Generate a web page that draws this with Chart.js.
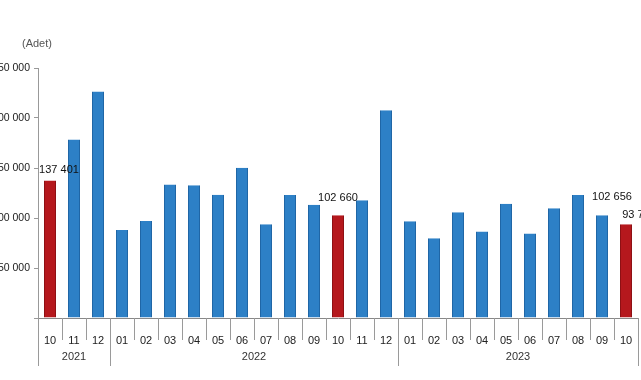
<!DOCTYPE html>
<html><head><meta charset="utf-8">
<script src="https://cdn.jsdelivr.net/npm/chart.js@4/dist/chart.umd.min.js"></script>
<style>
html,body{margin:0;padding:0;background:#fff;overflow:hidden;width:641px;height:380px;}
#wrap{position:absolute;left:-9px;top:0;width:650px;height:380px;}
#unit{position:absolute;left:22px;top:37px;font:11px "Liberation Sans",Arial,sans-serif;color:#555;}
</style></head><body>
<div id="wrap"><canvas id="c" width="650" height="380"></canvas></div>
<div id="unit">(Adet)</div>
<script>
// ---- data ----
const months = ['10','11','12','01','02','03','04','05','06','07','08','09','10','11','12','01','02','03','04','05','06','07','08','09','10'];
const yearNames = ['2021','2022','2023'];
const yearStart = [0, 3, 15];
const yearEnd = [2, 14, 24];
const values = [137401,178500,226500, 88000,97000,133500,132800,123200,150300,93800,123000,113200,102660,117800,207800, 96850,79700,105700,86500,114200,84500,109700,122900,102656,93760];
const highlightIdx = [0, 12, 24];
const labelIdx = [0, 12, 23, 24];
const labelText = ['137 401','102 660','102 656','93 76'];
const yTicks = [0, 50000, 100000, 150000, 200000, 250000];

const BLUE = '#2d80c6', BLUE_B = '#1f66a6';
const RED = '#b5181d', RED_B = '#8e1014';
const FONT = '"Liberation Sans", Arial, sans-serif';

const fmt = v => String(v).replace(/\B(?=(\d{3})+(?!\d))/g, ' ');

const extras = {
  id: 'extras',
  afterDraw(chart) {
    const ctx = chart.ctx;
    const xs = chart.scales.x, ys = chart.scales.y;
    const step = xs.width / months.length;
    const base = chart.chartArea.bottom;
    ctx.save();
    ctx.strokeStyle = '#9a9a9a';
    ctx.lineWidth = 1;
    // month separators
    for (let i = 0; i <= months.length; i++) {
      const x = Math.round(xs.getPixelForValue(i) - step / 2) + 0.5;
      const isYear = yearStart.includes(i) || i === months.length;
      ctx.beginPath();
      ctx.moveTo(x, base);
      ctx.lineTo(x, base + (isYear ? 48 : 22));
      ctx.stroke();
    }
    // year labels
    ctx.fillStyle = '#333';
    ctx.font = '11px ' + FONT;
    ctx.textAlign = 'center';
    ctx.textBaseline = 'middle';
    yearNames.forEach((y, k) => {
      const x = (xs.getPixelForValue(yearStart[k]) + xs.getPixelForValue(yearEnd[k])) / 2;
      ctx.fillText(y, x, base + 39);
    });
    // value labels
    const offs = [[9, -11], [0, -17], [10, -18], [10, -9]];
    ctx.fillStyle = '#111';
    labelIdx.forEach((idx, k) => {
      const x = xs.getPixelForValue(idx) + offs[k][0];
      const y = ys.getPixelForValue(values[idx]) + offs[k][1];
      ctx.fillText(labelText[k], x, y);
    });
    ctx.restore();
  }
};

new Chart(document.getElementById('c'), {
  type: 'bar',
  data: {
    labels: months,
    datasets: [{
      data: values,
      backgroundColor: values.map((v, i) => highlightIdx.includes(i) ? RED : BLUE),
      borderColor: values.map((v, i) => highlightIdx.includes(i) ? RED_B : BLUE_B),
      borderWidth: {left: 1, right: 1, top: 0, bottom: 0},
      barPercentage: 0.5,
      categoryPercentage: 1
    }]
  },
  options: {
    responsive: false,
    animation: false,
    devicePixelRatio: 1,
    layout: {padding: {top: 68, right: 3, left: 0, bottom: 0}},
    plugins: {legend: {display: false}, tooltip: {enabled: false}, title: {display: false}},
    scales: {
      x: {
        grid: {display: false},
        border: {display: true, color: '#888'},
        ticks: {color: '#222', font: {size: 11, family: FONT}, padding: 8, maxRotation: 0, autoSkip: false},
        afterFit: s => { s.height = 62; }
      },
      y: {
        min: 0, max: 250000,
        afterBuildTicks: s => { s.ticks = yTicks.map(v => ({value: v})); },
        grid: {drawOnChartArea: false, drawTicks: true, tickLength: 4, color: '#999'},
        border: {display: true, color: '#999'},
        ticks: {color: '#222', font: {size: 10.5, family: FONT}, padding: 4,
          callback: v => v === 0 ? '' : fmt(v)},
        afterFit: s => { s.width = 47; }
      }
    }
  },
  plugins: [extras]
});
</script>
</body></html>
